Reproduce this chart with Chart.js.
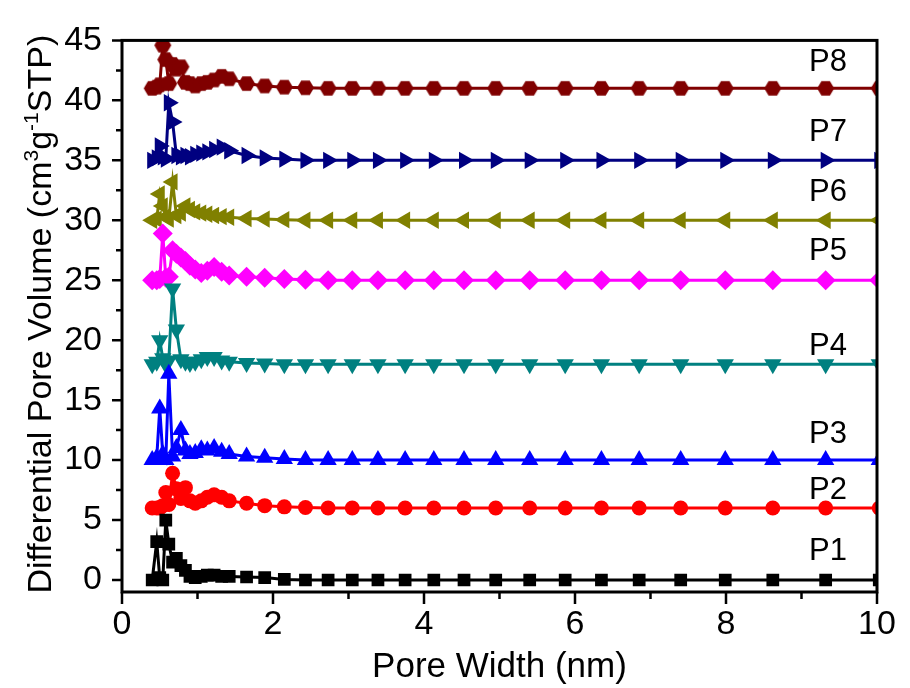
<!DOCTYPE html>
<html>
<head>
<meta charset="utf-8">
<script src="https://cdn.jsdelivr.net/npm/chart.js@4.4.1/dist/chart.umd.min.js"></script>
<style>
  html, body { margin: 0; padding: 0; background: #fff; }
  #wrap { width: 910px; height: 688px; }
</style>
</head>
<body>
<div id="wrap"><canvas id="pore-chart" width="910" height="688"></canvas></div>
<script>
// pore width (nm), same for every sample
var poreWidth = [0.40,0.46,0.50,0.54,0.58,0.62,0.67,0.72,0.78,0.84,0.90,0.97,1.05,1.13,1.22,1.32,1.42,1.65,1.89,2.15,2.43,2.73,3.05,3.39,3.75,4.13,4.53,4.95,5.40,5.87,6.35,6.85,7.40,7.99,8.62,9.32,10.03];

// differential pore volume, each curve already offset in the figure
var p1 = [0,3.2,0.2,0,5.0,3.0,1.5,1.8,1.2,0.8,0.3,0.2,0.3,0.4,0.4,0.3,0.3,0.25,0.2,0.05,0,0,0,0,0,0,0,0,0,0,0,0,0,0,0,0,0];
var p2 = [6,6,6,6.2,7.3,6.3,8.9,7.6,6.8,7.7,6.6,6.4,6.6,6.9,7.1,6.9,6.6,6.4,6.2,6.1,6.05,6,6,6,6,6,6,6,6,6,6,6,6,6,6,6,6];
var p3 = [10,10.2,14.3,10.5,10,17.2,10.3,11.0,12.5,10.8,10.5,10.6,10.9,10.8,11.0,10.7,10.5,10.3,10.2,10.1,10,10,10,10,10,10,10,10,10,10,10,10,10,10,10,10,10];
var p4 = [18,18.2,20.0,18.5,18.0,18.3,24.3,20.9,18.4,18.2,18.1,18.2,18.4,18.6,18.6,18.3,18.2,18.1,18.05,18,18,18,18,18,18,18,18,18,18,18,18,18,18,18,18,18,18];
var p5 = [25,25,25.1,28.9,25.2,25.3,27.5,27.2,26.9,26.6,26.2,25.9,25.6,25.8,26.1,25.7,25.4,25.3,25.2,25.1,25.05,25,25,25,25,25,25,25,25,25,25,25,25,25,25,25,25];
var p6 = [30,30.1,32.2,31.2,30.3,30.1,33.2,30.4,30.6,31.2,30.9,30.7,30.6,30.5,30.4,30.3,30.25,30.15,30.1,30.05,30,30,30,30,30,30,30,30,30,30,30,30,30,30,30,30,30];
var p7 = [35,35.2,36.2,35.3,35.1,39.8,38.2,35.4,35.3,35.4,35.3,35.5,35.6,35.7,35.9,36.1,35.8,35.4,35.2,35.1,35,35,35,35,35,35,35,35,35,35,35,35,35,35,35,35,35];
var p8 = [41,41.1,41.3,44.6,43.4,41.4,43.0,42.6,42.8,41.5,41.4,41.2,41.4,41.5,41.7,42.0,41.8,41.4,41.2,41.1,41.05,41,41,41,41,41,41,41,41,41,41,41,41,41,41,41,41];

var sampleNames = ['P1','P2','P3','P4','P5','P6','P7','P8'];
// where each sample name sits (data units)
var nameX = [9.35,9.35,9.35,9.35,9.35,9.35,9.35,9.35];
var nameY = [2.4,7.5,12.1,19.5,27.4,32.3,37.3,43.2];

var xTicks = [0,2,4,6,8,10];
var yTicks = [0,5,10,15,20,25,30,35,40,45];

var FONT = '"Liberation Sans", Arial, sans-serif';

// hexagon marker for P8 (no built-in style)
function hexagon(color, r) {
  var c = document.createElement('canvas');
  c.width = c.height = r * 2 + 2;
  var g = c.getContext('2d');
  g.fillStyle = color;
  g.beginPath();
  for (var i = 0; i < 6; i++) {
    var a = Math.PI / 3 * i;
    var px = r + 1 + r * Math.cos(a), py = r + 1 + r * Math.sin(a);
    if (i == 0) g.moveTo(px, py); else g.lineTo(px, py);
  }
  g.closePath();
  g.fill();
  return c;
}

function series(values, color, style, radius, rotation) {
  return {
    data: poreWidth.map(function (x, i) { return { x: x, y: values[i] }; }),
    borderColor: color,
    backgroundColor: color,
    borderWidth: 3,
    pointStyle: style,
    pointRadius: radius,
    pointRotation: rotation || 0,
    pointBorderWidth: 0,
    pointBackgroundColor: color,
    tension: 0
  };
}

var frame = {
  id: 'frame',
  afterDraw: function (chart) {
    var ctx = chart.ctx, a = chart.chartArea;
    var xs = chart.scales.x, ys = chart.scales.y;
    ctx.save();
    ctx.strokeStyle = '#000';
    ctx.lineWidth = 3;
    ctx.strokeRect(a.left, a.top, a.right - a.left, a.bottom - a.top);
    ctx.lineWidth = 2.5;
    ctx.beginPath();
    for (var v = 0; v <= 45; v += 2.5) {
      var y = ys.getPixelForValue(v);
      ctx.moveTo(a.left, y);
      ctx.lineTo(a.left - (v % 5 == 0 ? 10 : 6), y);
    }
    for (var u = 0; u <= 10; u += 1) {
      var x = xs.getPixelForValue(u);
      ctx.moveTo(x, a.bottom);
      ctx.lineTo(x, a.bottom + (u % 2 == 0 ? 12 : 7));
    }
    ctx.stroke();

    // sample names
    ctx.fillStyle = '#000';
    ctx.font = '31px ' + FONT;
    ctx.textAlign = 'center';
    ctx.textBaseline = 'middle';
    sampleNames.forEach(function (n, i) {
      ctx.fillText(n, xs.getPixelForValue(nameX[i]), ys.getPixelForValue(nameY[i]));
    });

    // axis titles
    ctx.font = '35px ' + FONT;
    ctx.textBaseline = 'alphabetic';
    ctx.fillText('Pore Width (nm)', (a.left + a.right) / 2, 677);

    ctx.translate(51, (a.top + a.bottom) / 2 - 2);
    ctx.rotate(-Math.PI / 2);
    var big = '34px ' + FONT;
    var small = '21px ' + FONT;
    var parts = [['Differential Pore Volume (cm', big, 0], ['3', small, -13], ['g', big, 0], ['-1', small, -13], ['STP)', big, 0]];
    var total = 0;
    parts.forEach(function (p) { ctx.font = p[1]; total += ctx.measureText(p[0]).width; });
    var cx = -total / 2;
    ctx.textAlign = 'left';
    parts.forEach(function (p) {
      ctx.font = p[1];
      ctx.fillText(p[0], cx, p[2]);
      cx += ctx.measureText(p[0]).width;
    });
    ctx.restore();
  }
};

var chart = new Chart(document.getElementById('pore-chart').getContext('2d'), {
  type: 'line',
  data: {
    datasets: [
      series(p1, '#000000', 'rect', 9),
      series(p2, '#ff0000', 'circle', 7.5),
      series(p3, '#0000ff', 'triangle', 10),
      series(p4, '#008080', 'triangle', 10, 180),
      series(p5, '#ff00ff', 'rectRot', 10),
      series(p6, '#808000', 'triangle', 10, -90),
      series(p7, '#000080', 'triangle', 10, 90),
      series(p8, '#800000', hexagon('#800000', 8.5), 8.5)
    ]
  },
  options: {
    responsive: false,
    devicePixelRatio: 1,
    animation: false,
    layout: { padding: { top: 35, right: 33, left: 0, bottom: 0 } },
    plugins: { legend: { display: false }, tooltip: { enabled: false } },
    scales: {
      x: {
        type: 'linear',
        min: 0,
        max: 10,
        grid: { display: false, drawTicks: false },
        border: { display: false },
        afterBuildTicks: function (s) { s.ticks = xTicks.map(function (v) { return { value: v }; }); },
        afterFit: function (s) { s.height = 96; },
        ticks: { color: '#000', padding: 12, font: { family: FONT, size: 34 } }
      },
      y: {
        type: 'linear',
        min: -1,
        max: 45,
        grid: { display: false, drawTicks: false },
        border: { display: false },
        afterBuildTicks: function (s) { s.ticks = yTicks.map(function (v) { return { value: v }; }); },
        afterFit: function (s) { s.width = 122; },
        ticks: { color: '#000', padding: 20, font: { family: FONT, size: 34 } }
      }
    }
  },
  plugins: [frame]
});
</script>
</body>
</html>
